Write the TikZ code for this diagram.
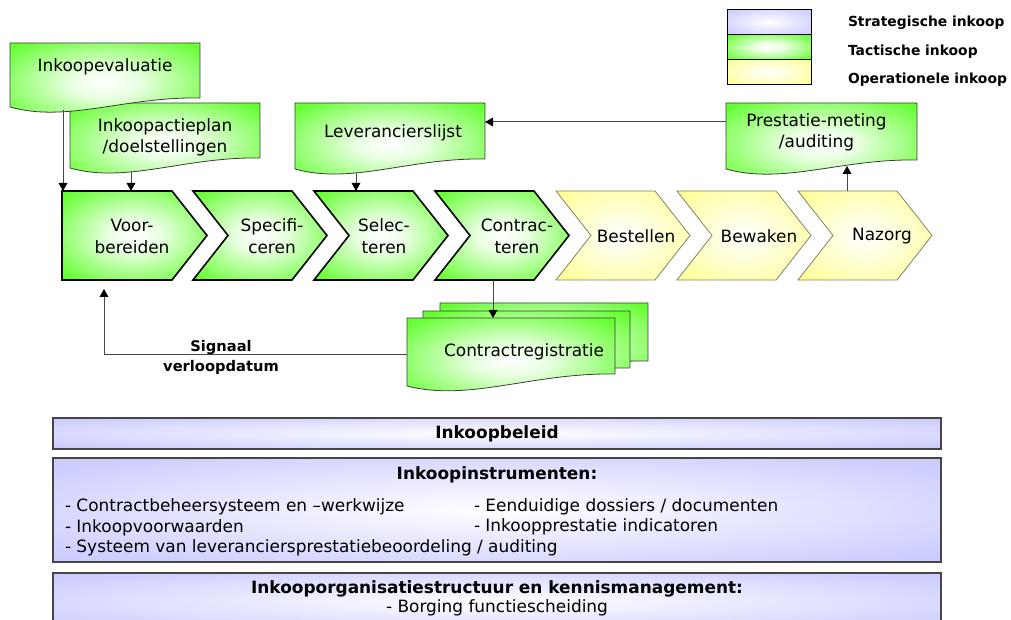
\documentclass[tikz,border=0pt]{standalone}
\usepackage{fontspec}
\setmainfont{DejaVu Sans}
\usetikzlibrary{arrows.meta,calc}
\pgfdeclarelayer{bg}
\pgfsetlayers{bg,main}
\definecolor{gcol}{RGB}{102,255,51}
\definecolor{ycol}{RGB}{255,255,153}
\definecolor{bcol}{RGB}{204,204,255}
\definecolor{docgray}{RGB}{60,60,60}
\definecolor{ybord}{RGB}{130,130,100}
\definecolor{linegray}{RGB}{70,70,70}
\colorlet{gmid}{gcol!14!white}
\colorlet{ymid}{ycol!25!white}
\colorlet{bmid}{bcol!25!white}
\pgfdeclareradialshading{glowgreen}{\pgfpoint{0bp}{0bp}}{color(0bp)=(white); color(9bp)=(gmid); color(33bp)=(gcol); color(50bp)=(gcol)}
\pgfdeclareradialshading{glowyellow}{\pgfpoint{0bp}{0bp}}{color(0bp)=(white); color(9bp)=(ymid); color(33bp)=(ycol); color(50bp)=(ycol)}
\pgfdeclareradialshading{glowblue}{\pgfpoint{0bp}{0bp}}{color(0bp)=(white); color(8bp)=(bmid); color(33bp)=(bcol); color(50bp)=(bcol)}
\newcommand\pxu{0.75pt}
\newcommand\mainfs{\fontsize{12.7pt}{15.5pt}\selectfont}
\newcommand\docshape[3]{%
  \begin{pgfonlayer}{bg}
  \path[docline, path picture={\shade[shading=#3] (#1.north west) rectangle ([yshift=-4pt]#1.south east);}]
    let \p1=(#1.north west), \p2=(#1.south east) in
    (\x1,\y1) -- (\x2,\y1) -- (\x2,{\y2+#2*0.75pt})
    .. controls ({0.4*\x1+0.6*\x2},{\y2+#2*0.75pt+1pt}) and ({0.7*\x1+0.3*\x2},{\y2-12pt}) .. (\x1,\y2) -- cycle;
  \end{pgfonlayer}}
\newcommand\chevshape[2]{%
  \begin{pgfonlayer}{bg}
  \path[#2] (#1.north west) -- ([xshift=-35*\pxu]#1.north east) -- (#1.east) -- ([xshift=-35*\pxu]#1.south east) -- (#1.south west) -- ([xshift=35*\pxu]#1.west) -- cycle;
  \end{pgfonlayer}}
\begin{document}
\begin{tikzpicture}[x=0.75pt,y=-0.75pt,
  every node/.style={inner sep=0pt, outer sep=0pt, font=\mainfs},
  docbox/.style={rectangle, draw=none},
  docline/.style={draw=docgray, line width=0.6pt},
  chevbox/.style={rectangle, draw=none, minimum height=89*\pxu},
  chevtext/.style={align=center, font=\fontsize{12.7pt}{16.5pt}\selectfont},
  gchev/.style={shade, shading=glowgreen, draw=black, line width=1.2pt, line join=miter},
  ychev/.style={shade, shading=glowyellow, draw=ybord, line width=0.6pt, line join=miter},
  legbox/.style={rectangle, draw=black, line width=0.6pt, shade, minimum width=84*\pxu, minimum height=25*\pxu},
  legtext/.style={anchor=west, font=\fontsize{10.4pt}{12pt}\selectfont\bfseries},
  sigtext/.style={align=center, font=\fontsize{11pt}{15pt}\selectfont\bfseries},
  bbox/.style={rectangle, draw=linegray, line width=1.1pt, shade, shading=glowblue, minimum width=888*\pxu},
  conn/.style={draw=linegray, line width=0.75pt, -{Triangle[length=6pt,width=6.5pt,color=black]}}]
\useasboundingbox (0,0) rectangle (1011,620);
\clip (0,0) rectangle (1011,620);

% legend
\node[legbox, shading=glowblue] (lg1) at (769,22) {};
\node[legbox, shading=glowgreen] (lg2) at (769,47) {};
\node[legbox, shading=glowyellow] (lg3) at (769,72) {};
\node[legtext] (lt1) at (848,23) {Strategische inkoop};
\node[legtext] (lt2) at (848,52) {Tactische inkoop};
\node[legtext] (lt3) at (848,80) {Operationele inkoop};

% documents
\node[docbox, minimum width=190*\pxu, minimum height=65*\pxu,
  label={[align=center, yshift=-2*\pxu]center:{Inkoopactieplan\\/doelstellingen}}] (plan) at (165,135.5) {};
\node[docbox, minimum width=190*\pxu, minimum height=64*\pxu,
  label={[yshift=8*\pxu]center:Inkoopevaluatie}] (eval) at (105,75) {};
\node[docbox, minimum width=190*\pxu, minimum height=66*\pxu,
  label={[xshift=3*\pxu, yshift=3*\pxu]center:Leverancierslijst}] (lev) at (390,136) {};
\node[docbox, minimum width=191*\pxu, minimum height=66*\pxu,
  label={[align=center, xshift=-5*\pxu, yshift=4*\pxu]center:{Prestatie-meting\\/auditing}}] (prest) at (821.5,136) {};
\node[docbox, minimum width=208*\pxu, minimum height=70*\pxu] (crback) at (544,338) {};
\node[docbox, minimum width=207*\pxu, minimum height=69*\pxu] (crmid) at (526.5,345.5) {};
\node[docbox, minimum width=208*\pxu, minimum height=68*\pxu,
  label={[xshift=13*\pxu]center:Contractregistratie}] (cr) at (511,352) {};

\docshape{plan}{10}{glowgreen}
\docshape{eval}{9}{glowgreen}
\docshape{lev}{10}{glowgreen}
\docshape{prest}{9}{glowgreen}
\docshape{crback}{12}{glowgreen}
\docshape{crmid}{12}{glowgreen}
\docshape{cr}{12}{glowgreen}

% chevrons
\node[chevbox, minimum width=145*\pxu] (v1) at (134.5,235.5) {};
\node[chevbox, minimum width=134*\pxu] (c2) at (260,235.5) {};
\node[chevbox, minimum width=134*\pxu] (c3) at (381,235.5) {};
\node[chevbox, minimum width=134*\pxu] (c4) at (502,235.5) {};
\node[chevbox, minimum width=134*\pxu] (c5) at (623,235.5) {};
\node[chevbox, minimum width=134*\pxu] (c6) at (744,235.5) {};
\node[chevbox, minimum width=134*\pxu] (c7) at (865,235.5) {};

\begin{pgfonlayer}{bg}
\path[gchev] (v1.north west) -- ([xshift=-35*\pxu]v1.north east) -- (v1.east) -- ([xshift=-35*\pxu]v1.south east) -- (v1.south west) -- cycle;
\end{pgfonlayer}
\chevshape{c2}{gchev}
\chevshape{c3}{gchev}
\chevshape{c4}{gchev}
\chevshape{c5}{ychev}
\chevshape{c6}{ychev}
\chevshape{c7}{ychev}

\node[chevtext] (t1) at (132,236) {Voor-\\bereiden};
\node[chevtext] (t2) at (272,236) {Specifi-\\ceren};
\node[chevtext] (t3) at (384,236) {Selec-\\teren};
\node[chevtext] (t4) at (517,236) {Contrac-\\teren};
\node[chevtext] (t5) at (636,236) {Bestellen};
\node[chevtext] (t6) at (759,236) {Bewaken};
\node[chevtext] (t7) at (882,236) {Nazorg};

% connectors
\draw[conn] ([xshift=53*\pxu, yshift=-3*\pxu]eval.south west) -- ([xshift=1*\pxu]v1.north west);
\draw[conn] ([xshift=61*\pxu, yshift=-4*\pxu]plan.south west) -- ([xshift=69*\pxu]v1.north west);
\draw[conn] ([xshift=61*\pxu, yshift=-4*\pxu]lev.south west) -- ([xshift=42*\pxu]c3.north west);
\draw[conn] ([xshift=-18*\pxu]c7.north) -- ([xshift=25.5*\pxu, yshift=3*\pxu]prest.south);
\draw[conn] ([yshift=14*\pxu]prest.west) -- ([yshift=14*\pxu]lev.east);
\draw[conn] ([xshift=-9*\pxu]c4.south) -- ([xshift=-18*\pxu]cr.north);
\draw[conn] ([yshift=-3*\pxu]cr.west) -| ([xshift=-30.5*\pxu, yshift=-9*\pxu]v1.south);
\node[sigtext] (sig) at (221,357) {Signaal\\verloopdatum};

% bottom boxes
\node[bbox, minimum height=31*\pxu, font=\mainfs\bfseries] (b1) at (497,433.5) {Inkoopbeleid};
\node[bbox, minimum height=104*\pxu] (b2) at (497,510) {};
\node[bbox, minimum height=57*\pxu] (b3) at (497,601.5) {};
\node[font=\mainfs\bfseries] (h2) at (497,475) {Inkoopinstrumenten:};
\node[anchor=west, align=left, font=\fontsize{12.7pt}{15.4pt}\selectfont] (l2a) at (65,527.5) {- Contractbeheersysteem en –werkwijze\\- Inkoopvoorwaarden\\- Systeem van leveranciersprestatiebeoordeling / auditing};
\node[anchor=west, align=left, font=\fontsize{12.7pt}{15.4pt}\selectfont] (l2b) at (474,517) {- Eenduidige dossiers / documenten\\- Inkoopprestatie indicatoren};
\node[font=\mainfs\bfseries] (h3) at (497,589) {Inkooporganisatiestructuur en kennismanagement:};
\node (h3b) at (497,608) {- Borging functiescheiding};
\end{tikzpicture}
\end{document}
